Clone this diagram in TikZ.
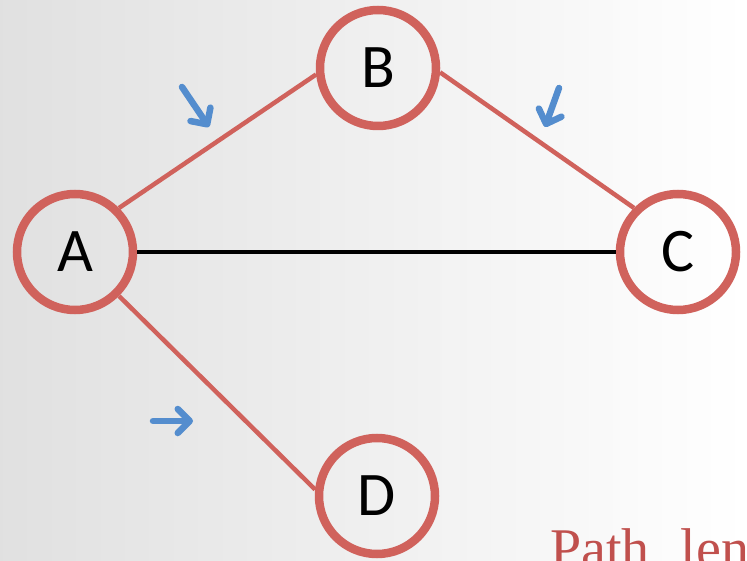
\documentclass[tikz,border=0pt]{standalone}
\usepackage{fontspec}
\setsansfont{Carlito}
\newfontfamily\titlefont{Liberation Serif}
\usetikzlibrary{arrows.meta}
\definecolor{ringred}{RGB}{208,98,92}
\definecolor{titlered}{RGB}{192,80,77}
\definecolor{arrowblue}{RGB}{84,141,206}
\tikzset{
  vertex/.style={circle, draw=ringred, line width=8.5pt, minimum size=116pt, inner sep=0pt,
    font=\sffamily\fontsize{62}{62}\selectfont, text=black},
  redline/.style={draw=ringred, line width=4.5pt},
  blackline/.style={draw=black, line width=4.5pt},
  flowarrow/.style={draw=arrowblue, line width=6.5pt, line cap=round,
    -{Straight Barb[length=12pt, width=24pt, line width=6.5pt, round]}},
}
\begin{document}
\begin{tikzpicture}[x=1pt, y=-1pt]
  \shade[left color=black!12, right color=white, shading angle=90] (0,0) rectangle (747,561);
  \path[use as bounding box] (0,0) rectangle (747,561);
  \node[vertex] (A) at (75,252) {A};
  \node[vertex] (B) at (378,68) {B};
  \node[vertex] (C) at (678,252) {C};
  \node[vertex] (D) at (377,496) {D};
  \draw[blackline] (A) -- (C);
  \draw[redline] (A.45) -- (B.186);
  \draw[redline] (B.-4) -- (C.135);
  \draw[redline] (A.-45) -- (D.174);
  \coordinate (a1s) at (182,87);
  \coordinate (a1e) at (209,127);
  \coordinate (a2s) at (559,88);
  \coordinate (a2e) at (545,127);
  \coordinate (a3s) at (153,421);
  \coordinate (a3e) at (193,421);
  \draw[flowarrow] (a1s) -- (a1e);
  \draw[flowarrow] (a2s) -- (a2e);
  \draw[flowarrow] (a3s) -- (a3e);
  \node[anchor=base west, inner sep=0pt, text=titlered, font=\titlefont\fontsize{56}{60}\selectfont] (title) at (550,567) {Path\hspace{0.55em}length};
\end{tikzpicture}
\end{document}
